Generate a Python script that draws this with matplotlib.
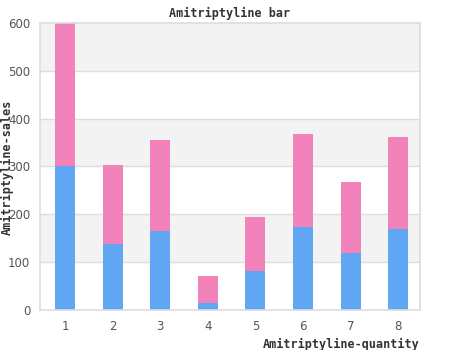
import matplotlib
matplotlib.use("Agg")
import matplotlib.pyplot as plt

# sales per quantity, two stacked series
quantity = [1, 2, 3, 4, 5, 6, 7, 8]
lower = [300, 137, 166, 15, 81, 173, 119, 170]
totals = [600, 303, 356, 72, 194, 368, 267, 362]
upper = [t - b for t, b in zip(totals, lower)]
yticks = [0, 100, 200, 300, 400, 500, 600]

blue = "#60a8f4"
pink = "#f283ba"
grid_c = "#dddddd"
text_c = "#555555"

fig = plt.figure(figsize=(4.5, 3.5), dpi=100)
ax = fig.add_axes([40 / 450, 40 / 350, 380 / 450, 287 / 350])

# alternating bands behind the bars
for lo in range(100, 600, 200):
    ax.axhspan(lo, lo + 100, color="#f3f3f3", zorder=0, lw=0)
for y in yticks[1:-1]:
    ax.axhline(y, color=grid_c, lw=1, zorder=1)

ax.bar(quantity, lower, width=0.42, color=blue, zorder=2)
ax.bar(quantity, upper, width=0.42, bottom=lower, color=pink, zorder=2)

ax.set_xlim(0.475, 8.46)
ax.set_ylim(0, 600)
ax.set_xticks(quantity)
ax.set_yticks(yticks)
ax.tick_params(length=0, colors=text_c, labelsize=8.5, pad=7)
for s in ax.spines.values():
    s.set_color(grid_c)
    s.set_linewidth(1.2)

mono = dict(family="DejaVu Sans Mono", weight="bold", size=8.5, color="#333333")
fig.text(0.5 * (40 + 420) / 450, 1 - 13 / 350, "Amitriptyline bar", ha="center", va="center", **mono)
fig.text(7 / 450, 1 - 167 / 350, "Amitriptyline-sales", rotation=90, ha="center", va="center", **mono)
fig.text(420 / 450, 1 - 344 / 350, "Amitriptyline-quantity", ha="right", va="center", **mono)

fig.savefig("out.png", dpi=100)
